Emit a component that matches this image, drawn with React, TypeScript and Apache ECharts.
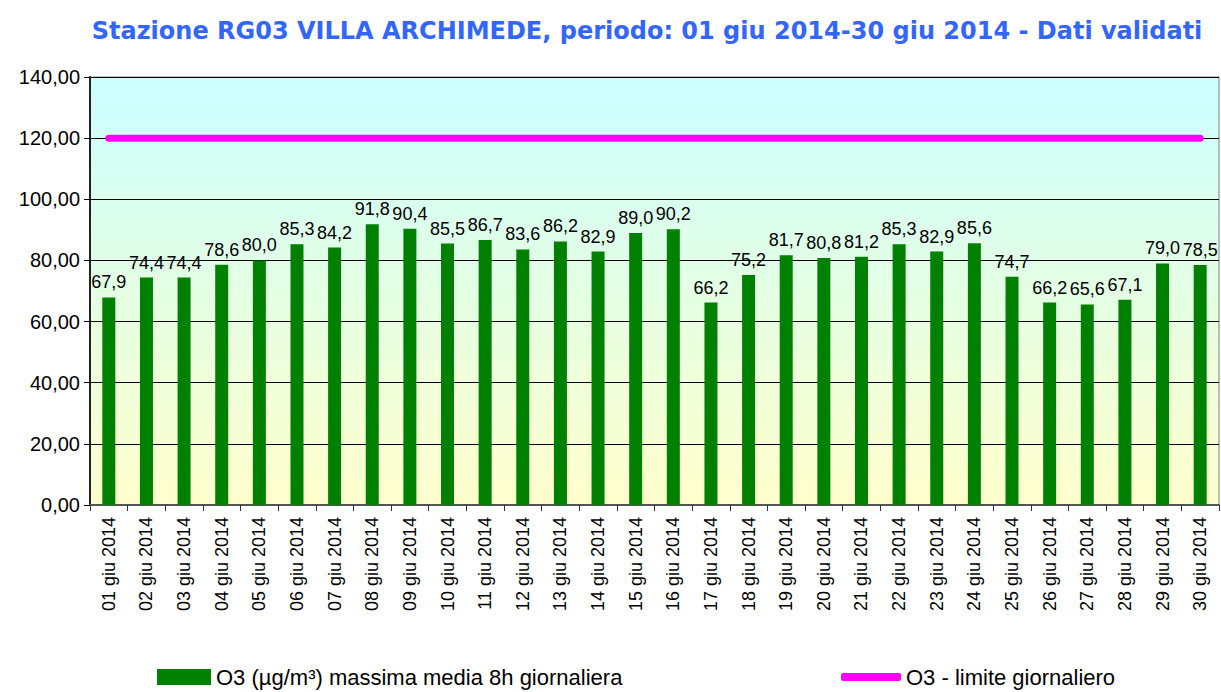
import React, { useEffect, useRef } from "react";
import * as echarts from "echarts";

const categories = [
  "01 giu 2014", "02 giu 2014", "03 giu 2014", "04 giu 2014", "05 giu 2014",
  "06 giu 2014", "07 giu 2014", "08 giu 2014", "09 giu 2014", "10 giu 2014",
  "11 giu 2014", "12 giu 2014", "13 giu 2014", "14 giu 2014", "15 giu 2014",
  "16 giu 2014", "17 giu 2014", "18 giu 2014", "19 giu 2014", "20 giu 2014",
  "21 giu 2014", "22 giu 2014", "23 giu 2014", "24 giu 2014", "25 giu 2014",
  "26 giu 2014", "27 giu 2014", "28 giu 2014", "29 giu 2014", "30 giu 2014",
];

const o3Values = [
  67.9, 74.4, 74.4, 78.6, 80.0, 85.3, 84.2, 91.8, 90.4, 85.5,
  86.7, 83.6, 86.2, 82.9, 89.0, 90.2, 66.2, 75.2, 81.7, 80.8,
  81.2, 85.3, 82.9, 85.6, 74.7, 66.2, 65.6, 67.1, 79.0, 78.5,
];

const limitValues = [
  120, 120, 120, 120, 120, 120, 120, 120, 120, 120,
  120, 120, 120, 120, 120, 120, 120, 120, 120, 120,
  120, 120, 120, 120, 120, 120, 120, 120, 120, 120,
];

const barName = "O3 (µg/m³) massima media 8h giornaliera";
const lineName = "O3 - limite giornaliero";
const titleText = "Stazione RG03 VILLA ARCHIMEDE, periodo: 01 giu 2014-30 giu 2014 - Dati validati";

export default function App() {
  const ref = useRef<HTMLDivElement>(null);
  useEffect(() => {
    if (!ref.current) return;
    const chart = echarts.init(ref.current, undefined, { renderer: "svg" });
    const font = "Liberation Sans, Arial, sans-serif";
    chart.setOption({
      animation: false,
      backgroundColor: "#ffffff",
      title: {
        text: titleText,
        left: 642,
        textAlign: "center",
        top: 14,
        textStyle: {
          fontFamily: "DejaVu Sans, Verdana, sans-serif",
          fontWeight: "bold",
          fontSize: 24,
          color: "#3366ff",
        },
      },
      legend: [
        {
          data: [barName],
          left: 152,
          top: 661,
          icon: "rect",
          itemWidth: 54,
          itemHeight: 16,
          itemGap: 6,
          textStyle: { fontFamily: font, fontSize: 22, color: "#000" },
        },
        {
          data: [{ name: lineName, icon: "roundRect" }],
          left: 836,
          top: 661,
          itemWidth: 60,
          itemHeight: 8,
          textStyle: { fontFamily: font, fontSize: 22, color: "#000" },
        },
      ],
      grid: {
        left: 90,
        right: 2,
        top: 77,
        bottom: 187,
        show: true,
        borderColor: "#808080",
        borderWidth: 1,
        backgroundColor: {
          type: "linear",
          x: 0,
          y: 0,
          x2: 0,
          y2: 1,
          colorStops: [
            { offset: 0, color: "#ccffff" },
            { offset: 0.5, color: "#e4ffe4" },
            { offset: 1, color: "#ffffcc" },
          ],
        },
      },
      xAxis: {
        type: "category",
        data: categories,
        boundaryGap: true,
        axisLine: { lineStyle: { color: "#555", width: 2 } },
        axisTick: { show: true, length: 6, lineStyle: { color: "#333" } },
        axisLabel: {
          rotate: 90,
          interval: 0,
          fontFamily: font,
          fontSize: 18,
          color: "#000",
          margin: 12,
        },
      },
      yAxis: {
        type: "value",
        min: 0,
        max: 140,
        interval: 20,
        axisLine: { show: true, lineStyle: { color: "#222", width: 2 } },
        axisTick: { show: true, length: 6, lineStyle: { color: "#000" } },
        splitLine: { show: true, lineStyle: { color: "#000", width: 1 } },
        axisLabel: {
          fontFamily: font,
          fontSize: 20,
          color: "#000",
          margin: 10,
          formatter: (v: number) => v.toFixed(2).replace(".", ","),
        },
      },
      series: [
        {
          name: barName,
          type: "bar",
          data: o3Values,
          barWidth: 13,
          itemStyle: { color: "#008000" },
          label: {
            show: true,
            position: "top",
            distance: 6,
            fontFamily: font,
            fontSize: 18,
            color: "#000",
            formatter: (p: any) => Number(p.value).toFixed(1).replace(".", ","),
          },
          z: 2,
        },
        {
          name: lineName,
          type: "line",
          data: limitValues,
          symbol: "none",
          itemStyle: { color: "#ff00ff" },
          lineStyle: { color: "#ff00ff", width: 7, cap: "round" },
          z: 3,
        },
      ],
    });
    return () => chart.dispose();
  }, []);
  return <div ref={ref} style={{ width: 1221, height: 692, position: "absolute", left: 0, top: 0 }} />;
}
